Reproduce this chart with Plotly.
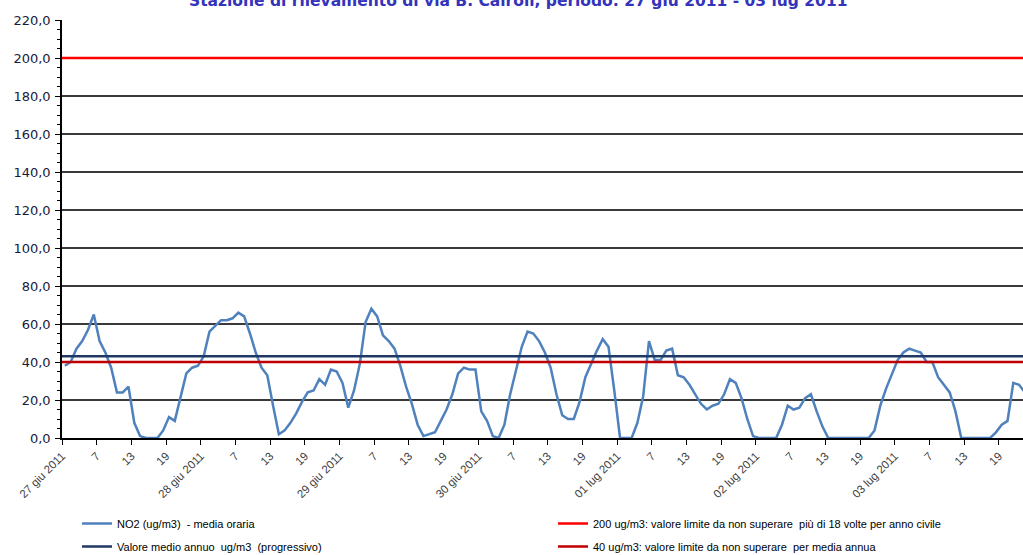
import plotly.graph_objects as go

# ---- data (hourly NO2, ug/m3) ----
day_labels = ["27 giu 2011", "28 giu 2011", "29 giu 2011", "30 giu 2011",
              "01 lug 2011", "02 lug 2011", "03 lug 2011"]
hour_labels = ["7", "13", "19"]

no2_27giu = [38, 40, 47, 51, 57, 65, 51, 45, 37, 24, 24, 27, 8, 1, 0, 0, 0, 4, 11, 9, 22, 34, 37, 38]
no2_28giu = [43, 56, 59, 62, 62, 63, 66, 64, 55, 45, 37, 33, 17, 2, 4, 8, 13, 19, 24, 25, 31, 28, 36, 35]
no2_29giu = [29, 16, 25, 39, 61, 68, 64, 54, 51, 47, 38, 27, 18, 7, 1, 2, 3, 9, 15, 23, 34, 37, 36, 36]
no2_30giu = [14, 9, 1, 0, 7, 23, 35, 48, 56, 55, 51, 45, 37, 23, 12, 10, 10, 19, 32, 39, 46, 52, 48, 25]
no2_01lug = [0, 0, 0, 8, 22, 51, 41, 41, 46, 47, 33, 32, 28, 23, 18, 15, 17, 18, 23, 31, 29, 21, 10, 1]
no2_02lug = [0, 0, 0, 0, 7, 17, 15, 16, 21, 23, 14, 6, 0, 0, 0, 0, 0, 0, 0, 0, 4, 17, 26, 34]
no2_03lug = [41, 45, 47, 46, 45, 40, 40, 32, 28, 24, 14, 0, 0, 0, 0, 0, 0, 3, 7, 9, 29, 28, 24, 22]

annual_mean = 43.0
limit_hourly = 200.0
limit_annual = 40.0

y_ticks = [0, 20, 40, 60, 80, 100, 120, 140, 160, 180, 200, 220]

# ---- build ----
no2 = no2_27giu + no2_28giu + no2_29giu + no2_30giu + no2_01lug + no2_02lug + no2_03lug
n = len(no2)
x_pts = [i + 0.5 for i in range(n)]  # category centres (between tick marks)

tickvals, ticktext = [], []
for d, lab in enumerate(day_labels):
    tickvals.append(d * 24)
    ticktext.append(lab)
    for j, h in enumerate(hour_labels):
        tickvals.append(d * 24 + 6 * (j + 1))
        ticktext.append(h)

W, H = 1023, 555
ML, MT, MB = 62, 20, 117
plot_w = W - ML
px_per_hour = 5.783
x_max = plot_w / px_per_hour

FONT = "Liberation Sans, Arial, sans-serif"
WIDE = "DejaVu Sans, Verdana, sans-serif"

fig = go.Figure()
fig.add_trace(go.Scatter(x=x_pts, y=no2, mode="lines", name="NO2 (ug/m3)  - media oraria",
                         line=dict(color="#4F81BD", width=2.5), legend="legend", legendgroup="a"))
fig.add_trace(go.Scatter(x=[0, n], y=[annual_mean, annual_mean], mode="lines",
                         name="Valore medio annuo  ug/m3  (progressivo)",
                         line=dict(color="#1F3864", width=2.5), legend="legend", legendgroup="b"))
fig.add_trace(go.Scatter(x=[0, n], y=[limit_hourly, limit_hourly], mode="lines",
                         name="200 ug/m3: valore limite da non superare  più di 18 volte per anno civile",
                         line=dict(color="#FF0000", width=2.5), legend="legend2", legendgroup="c"))
fig.add_trace(go.Scatter(x=[0, n], y=[limit_annual, limit_annual], mode="lines",
                         name="40 ug/m3: valore limite da non superare  per media annua",
                         line=dict(color="#C00000", width=2.5), legend="legend2", legendgroup="d"))

legend_common = dict(orientation="v", xref="container", yref="container", y=1 - 509 / H,
                     xanchor="left", yanchor="top", itemwidth=30,
                     traceorder="grouped", tracegroupgap=4,
                     font=dict(size=11, color="#000000", family=FONT),
                     bgcolor="rgba(0,0,0,0)")

fig.update_layout(
    width=W, height=H,
    margin=dict(l=ML, r=0, t=MT, b=MB, pad=0, autoexpand=False),
    paper_bgcolor="white", plot_bgcolor="white",
    separators=",.",
    font=dict(family=FONT, size=11, color="#000000"),
    showlegend=True,
    legend=dict(legend_common, x=77 / W),
    legend2=dict(legend_common, x=553 / W),
    xaxis=dict(range=[0, x_max], tickmode="array", tickvals=tickvals, ticktext=ticktext,
               tickangle=-45, ticks="outside", ticklen=5, tickcolor="#000", tickwidth=1,
               showgrid=False, zeroline=False, showline=True, linecolor="#000", linewidth=1.5,
               tickfont=dict(size=11.5, color="#404040", family=FONT), fixedrange=True,
               automargin=False),
    yaxis=dict(range=[0, 220], tickmode="array", tickvals=y_ticks, tickformat=".1f",
               ticks="outside", ticklen=5, tickcolor="#000", ticklabelstandoff=2,
               minor=dict(dtick=5, ticks="outside", ticklen=3, tickcolor="#000", showgrid=False),
               showgrid=True, gridcolor="#3a3a3a", gridwidth=1.5,
               zeroline=False, showline=True, linecolor="#000", linewidth=1.5,
               tickfont=dict(size=13, color="#1a1a3a", family=WIDE),
               fixedrange=True, automargin=False),
    annotations=[dict(text="<b>Stazione di rilevamento di via B. Cairoli, periodo: 27 giu 2011 - 03 lug 2011</b>",
                      xref="paper", yref="paper", x=0.475, y=1, xanchor="center", yanchor="bottom",
                      yshift=8, showarrow=False,
                      font=dict(size=15.5, color="#3333BB", family=WIDE))],
)

fig.write_html("out.html", config={"displayModeBar": False},
               post_script="document.body.style.margin='0px';document.body.style.overflow='hidden';")
